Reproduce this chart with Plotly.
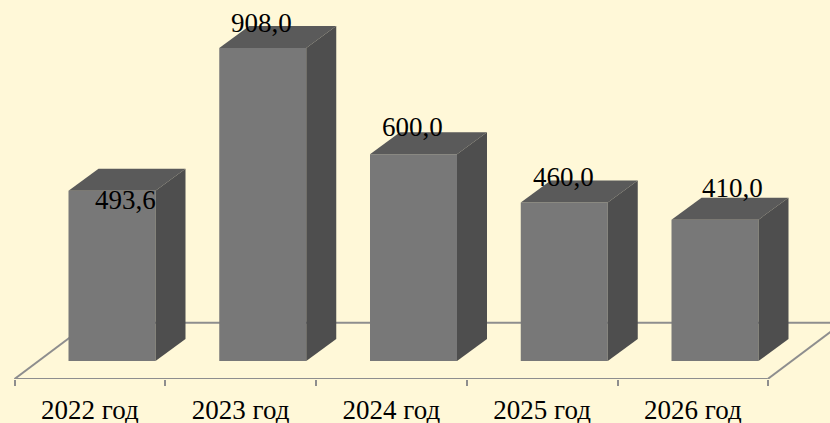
import plotly.graph_objects as go

# ---- data ----
categories = ["2022 год", "2023 год", "2024 год", "2025 год", "2026 год"]
values = [493.6, 908.0, 600.0, 460.0, 410.0]

# ---- styling / geometry ----
W, H = 830, 423
BG = "#FFF8D8"
FRONT = "#787878"
SIDE = "#4E4E4E"
TOP = "#5A5A5A"
FLOOR = "#8E8E8E"
PITCH = 150.75            # px per category
PX0 = 112.0               # px position of first bar centre
BASE_PX = 361.0           # px of value 0
PX_PER_UNIT = 0.3447
AXIS_PX = 379.0
BAR_W = 87 / PITCH
DX = 30 / PITCH
DY = 22 / PX_PER_UNIT
FLOOR_DX_LEFT = (14.5 - PX0) / PITCH
FLOOR_DX_RIGHT = (767.7 - PX0) / PITCH
FLOOR_DEPTH_X = 75 / PITCH
FLOOR_BACK_Y = (BASE_PX - 322.7) / PX_PER_UNIT
AXIS_Y = (BASE_PX - AXIS_PX) / PX_PER_UNIT
LABEL_SHIFT = [(13, -9), (-1, 25), (-1, 27), (-1, 25), (17, 32)]

x = list(range(len(values)))
fig = go.Figure()

for i, v in zip(x, values):
    l, r = i - BAR_W / 2, i + BAR_W / 2
    fig.add_trace(go.Scatter(
        x=[l, l + DX, r + DX, r, l], y=[v, v + DY, v + DY, v, v],
        mode="lines", fill="toself", fillcolor=TOP, line=dict(width=0),
        hoverinfo="skip", showlegend=False))
    fig.add_trace(go.Scatter(
        x=[r, r + DX, r + DX, r, r], y=[0, DY, v + DY, v, 0],
        mode="lines", fill="toself", fillcolor=SIDE, line=dict(width=0),
        hoverinfo="skip", showlegend=False))

fig.add_trace(go.Bar(x=x, y=values, width=BAR_W, marker=dict(color=FRONT, line=dict(width=0)),
                     showlegend=False, customdata=categories,
                     hovertemplate="%{customdata}: %{y}<extra></extra>"))

floor_line = dict(color=FLOOR, width=2)
for x0, y0, x1, y1 in [
    (FLOOR_DX_LEFT, AXIS_Y, FLOOR_DX_LEFT + FLOOR_DEPTH_X, FLOOR_BACK_Y),
    (FLOOR_DX_RIGHT, AXIS_Y, FLOOR_DX_RIGHT + FLOOR_DEPTH_X, FLOOR_BACK_Y),
    (FLOOR_DX_LEFT + FLOOR_DEPTH_X, FLOOR_BACK_Y, FLOOR_DX_RIGHT + FLOOR_DEPTH_X, FLOOR_BACK_Y),
    (FLOOR_DX_LEFT, AXIS_Y, FLOOR_DX_RIGHT, AXIS_Y),
]:
    fig.add_shape(type="line", x0=x0, y0=y0, x1=x1, y1=y1, line=floor_line, layer="below")

for i, v, (sx, sy) in zip(x, values, LABEL_SHIFT):
    fig.add_annotation(x=i, y=v, text=f"{v:.1f}".replace(".", ","), showarrow=False,
                       xanchor="center", yanchor="middle", xshift=sx, yshift=sy,
                       font=dict(family="Liberation Serif", size=27, color="black"))

fig.update_layout(
    width=W, height=H, autosize=False,
    paper_bgcolor=BG, plot_bgcolor=BG,
    margin=dict(l=0, r=0, t=0, b=H - AXIS_PX, pad=0),
    showlegend=False,
    font=dict(family="Liberation Serif", size=27, color="black"),
    xaxis=dict(
        range=[-PX0 / PITCH, (W - PX0) / PITCH],
        automargin=False,
        showgrid=False, zeroline=False,
        showline=False,
        tickmode="array",
        tickvals=[i + (FLOOR_DX_LEFT + 0.5) for i in x],
        ticktext=categories,
        ticks="", ticklabelstandoff=12,
        tickfont=dict(family="Liberation Serif", size=27, color="black"),
        minor=dict(ticks="outside", ticklen=6, tickwidth=2, tickcolor=FLOOR,
                   tickmode="array", tickvals=[FLOOR_DX_LEFT + k for k in range(6)]),
    ),
    yaxis=dict(
        range=[AXIS_Y, BASE_PX / PX_PER_UNIT],
        automargin=False,
        visible=False, showgrid=False, zeroline=False,
    ),
)
fig.write_html("out.html", config={"displayModeBar": False},
               post_script="document.body.style.margin='0';document.body.style.background='%s';" % BG)
